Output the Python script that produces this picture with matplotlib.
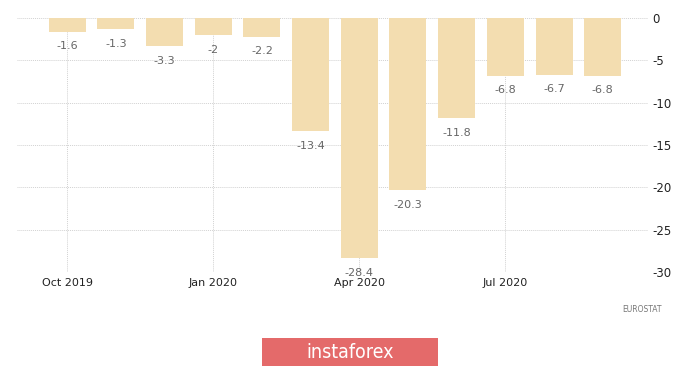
import matplotlib
matplotlib.use("Agg")
import matplotlib.pyplot as plt
from matplotlib.patches import Rectangle

months = ["Oct 2019", "Nov 2019", "Dec 2019", "Jan 2020", "Feb 2020", "Mar 2020",
          "Apr 2020", "May 2020", "Jun 2020", "Jul 2020", "Aug 2020", "Sep 2020"]
values = [-1.6, -1.3, -3.3, -2, -2.2, -13.4, -28.4, -20.3, -11.8, -6.8, -6.7, -6.8]
value_labels = ["-1.6", "-1.3", "-3.3", "-2", "-2.2", "-13.4", "-28.4", "-20.3",
                "-11.8", "-6.8", "-6.7", "-6.8"]
xtick_labels = ["Oct 2019", "Jan 2020", "Apr 2020", "Jul 2020"]
xtick_idx = [0, 3, 6, 9]
yticks = [0, -5, -10, -15, -20, -25, -30]

fig = plt.figure(figsize=(7.0, 3.68), dpi=100)
ax = fig.add_axes([17/700, 1 - 272/368, 631/700, 254/368])

x = list(range(len(values)))
ax.bar(x, values, width=0.76, color="#F3DDB0", zorder=2)
for xi, v, lab in zip(x, values, value_labels):
    ax.annotate(lab, (xi, v), xytext=(0, -7), textcoords="offset points",
                ha="center", va="top", fontsize=8, color="#666666", zorder=3)

ax.set_xlim(-1.03, 11.93)
ax.set_ylim(-30, 0)
ax.set_xticks(xtick_idx)
ax.set_xticklabels(xtick_labels, fontsize=8, color="#222222")
ax.set_yticks(yticks)
ax.set_yticklabels([str(t) for t in yticks], fontsize=8.5, color="#222222")
ax.yaxis.tick_right()
ax.tick_params(axis="both", length=0, pad=3)
ax.tick_params(axis="x", pad=4)
for s in ax.spines.values():
    s.set_visible(False)
ax.grid(True, linestyle=(0, (1, 1)), color="#d2d2d2", linewidth=0.7, zorder=0)
ax.set_axisbelow(True)

fig.text(662/700, 1 - 310/368, "EUROSTAT", ha="right", va="center",
         fontsize=5.5, color="#777777")

fig.patches.append(Rectangle((262/700, 1 - 366/368), 176/700, 28/368,
                             transform=fig.transFigure, facecolor="#E46A6A",
                             edgecolor="none"))
fig.text(350/700, 1 - 352/368, "instaforex", ha="center", va="center",
         fontsize=14, color="white", fontstretch="condensed")

fig.savefig("out.png", dpi=100)
